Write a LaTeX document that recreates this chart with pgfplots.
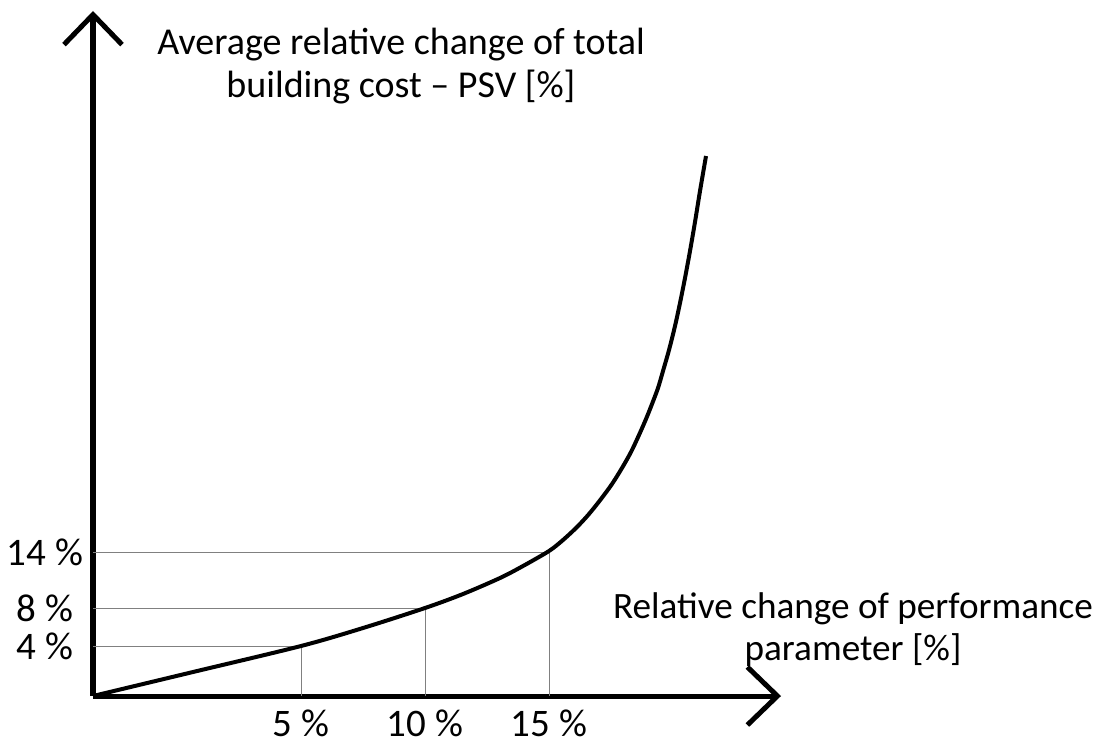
\documentclass[border=0pt]{standalone}
\usepackage{fontspec}
\setmainfont{Carlito}
\usepackage{pgfplots}
\pgfplotsset{compat=1.18}
\usetikzlibrary{arrows.meta}

\begin{document}
\begin{tikzpicture}
% page = 1101 x 746 px at 0.5pt per px, origin of axes at px (93,696)
\path[use as bounding box] (-46.5pt,-25pt) rectangle (504pt,348pt);
\begin{axis}[
  at={(0,0)}, anchor=origin,
  x=0.5pt, y=0.5pt,
  xmin=0, xmax=688,
  ymin=0, ymax=685,
  axis lines=left,
  axis line style={line width=2.5pt, -{Straight Barb[length=15pt,width=29pt,line width=2.5pt]}},
  clip=false,
  major tick length=0pt,
  xtick={208,332,456},
  xticklabels={5 \%, 10 \%, 15 \%},
  ytick={50,88,144},
  yticklabels={4 \%, 8 \%, 14 \%},
  tick label style={font=\fontsize{19.5}{21}\selectfont, inner sep=0pt},
  xticklabel style={anchor=base, yshift=-20pt},
  yticklabel style={anchor=center, xshift=-24pt},
  /pgf/number format/assume math mode=true,
  xlabel={Relative change of performance\\parameter [\%]},
  xlabel style={at={(axis cs:760,66)}, anchor=center, align=center,
    font=\fontsize{18.6}{21}\selectfont},
  ylabel={Average relative change of total\\building cost -- PSV [\%]},
  ylabel style={at={(axis cs:308,630)}, rotate=-90, anchor=center, align=center,
    font=\fontsize{19}{21.5}\selectfont},
]
% guide lines
\addplot[gray, line width=0.5pt] coordinates {(0,50) (208,50) (208,0)};
\addplot[gray, line width=0.5pt] coordinates {(0,88) (332,88) (332,0)};
\addplot[gray, line width=0.5pt] coordinates {(0,144) (456,144) (456,0)};
% cost curve
\addplot[black, line width=2pt, smooth] coordinates {
(0,0) (100,24) (208,50) (270,68) (332,88) (370,102) (407,118) (430,130)
(456,145) (470,156) (484,169) (496,182) (508,197) (519,212) (529,228)
(538,244) (546,261) (553,277) (559,292) (565,308) (570,325) (576,346)
(582,370) (587,393) (592,418) (597,445) (602,474) (607,505) (613,540)
};
\end{axis}
\end{tikzpicture}
\end{document}
